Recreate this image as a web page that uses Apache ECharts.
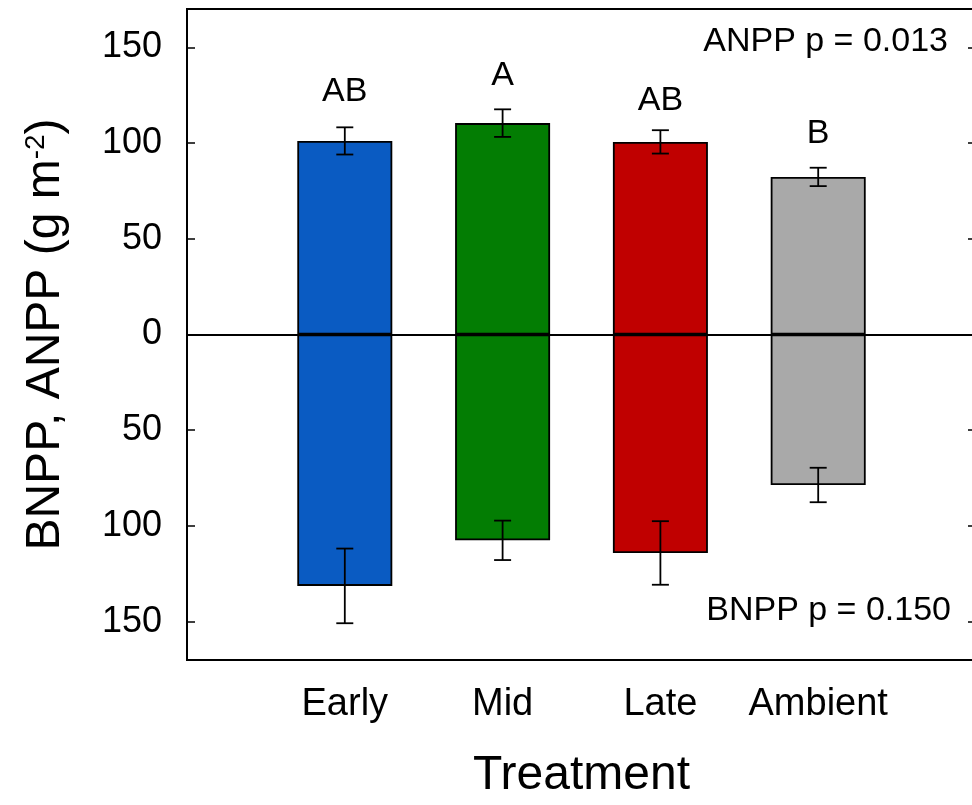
<!DOCTYPE html>
<html>
<head>
<meta charset="utf-8">
<script src="https://cdn.jsdelivr.net/npm/echarts@6/dist/echarts.min.js"></script>
<style>
html,body{margin:0;padding:0;background:#fff;overflow:hidden;width:972px;height:805px;}
#c{width:980px;height:805px;}
</style>
</head>
<body>
<div id="c"></div>
<script>
// ---- data ----
var categories = ['Early', 'Mid', 'Late', 'Ambient'];
var catPos = [1, 2, 3, 4];
var anppMean = [101.1, 110.4, 100.6, 82.3];
var anppSE = [7.1, 7.2, 6.1, 4.8];
var bnppMean = [131.3, 107.5, 114.1, 78.6];
var bnppSE = [19.5, 10.3, 16.6, 9.0];
var letters = ['AB', 'A', 'AB', 'B'];
var letterY = [126.8, 135.2, 121.9, 104.7];
var yTicks = [-150, -100, -50, 0, 50, 100, 150];
var barColors = ['#0a5bc2', '#037d03', '#c00000', '#a9a9a9'];
var anppNote = 'ANPP p = 0.013';
var bnppNote = 'BNPP p = 0.150';

var FONT = '"Liberation Sans", Arial, Helvetica, sans-serif';

var anppData = catPos.map(function (x, i) { return [x, anppMean[i]]; });
var bnppData = catPos.map(function (x, i) { return [x, -bnppMean[i]]; });
var errData = [];
catPos.forEach(function (x, i) {
  errData.push([x, anppMean[i] - anppSE[i], anppMean[i] + anppSE[i]]);
  errData.push([x, -(bnppMean[i] - bnppSE[i]), -(bnppMean[i] + bnppSE[i])]);
});
var letterData = catPos.map(function (x, i) { return [x, letterY[i]]; });

var chart = echarts.init(document.getElementById('c'), null, {renderer: 'canvas'});

function errRender(params, api) {
  var x = api.value(0);
  var p1 = api.coord([x, api.value(1)]);
  var p2 = api.coord([x, api.value(2)]);
  var cap = 8.5;
  var st = {stroke: '#000', lineWidth: 1.8};
  return {
    type: 'group',
    children: [
      {type: 'line', shape: {x1: p1[0], y1: p1[1], x2: p2[0], y2: p2[1]}, style: st},
      {type: 'line', shape: {x1: p1[0] - cap, y1: p1[1], x2: p1[0] + cap, y2: p1[1]}, style: st},
      {type: 'line', shape: {x1: p2[0] - cap, y1: p2[1], x2: p2[0] + cap, y2: p2[1]}, style: st}
    ]
  };
}

var option = {
  backgroundColor: '#fff',
  animation: false,
  grid: {
    left: 187, top: 9, right: 4, bottom: 145,
    show: true, borderColor: '#000', borderWidth: 2, backgroundColor: 'transparent'
  },
  xAxis: {
    type: 'value', min: 0, max: 5,
    splitLine: {show: false},
    axisLine: {show: false},
    axisTick: {show: true, inside: true, length: 8, customValues: catPos, lineStyle: {color: '#000', width: 1.5}},
    axisLabel: {
      show: true, customValues: catPos, margin: 26,
      fontFamily: FONT, fontSize: 38, color: '#000',
      formatter: function (v) { return categories[catPos.indexOf(v)] || ''; }
    },
    name: 'Treatment', nameLocation: 'middle', nameGap: 92,
    nameTextStyle: {fontFamily: FONT, fontSize: 48, color: '#000'}
  },
  yAxis: [{
    type: 'value', min: -170, max: 170,
    splitLine: {show: false},
    axisLine: {show: false},
    axisTick: {show: true, inside: true, length: 8, customValues: yTicks, lineStyle: {color: '#000', width: 1.5}},
    axisLabel: {
      show: true, customValues: yTicks, margin: 25,
      fontFamily: FONT, fontSize: 36, color: '#000',
      formatter: function (v) { return String(Math.abs(v)); }
    },
    name: 'BNPP, ANPP (g m{sup|-2})', nameLocation: 'middle', nameGap: 117, nameRotate: 90,
    nameTextStyle: {
      fontFamily: FONT, fontSize: 48, color: '#000',
      rich: {sup: {fontFamily: FONT, fontSize: 28, color: '#000', verticalAlign: 'top', lineHeight: 48}}
    }
  }, {
    type: 'value', min: -170, max: 170, position: 'right',
    splitLine: {show: false},
    axisLine: {show: false},
    axisTick: {show: true, inside: true, length: 8, customValues: yTicks, lineStyle: {color: '#000', width: 1.5}},
    axisLabel: {show: false}
  }],
  series: [{
    name: 'ANPP', type: 'bar', data: anppData, barWidth: 95, barGap: '-100%',
    itemStyle: {
      color: function (p) { return barColors[p.dataIndex]; },
      borderColor: '#000', borderWidth: 1.8
    },
    markLine: {
      silent: true, symbol: ['none', 'none'], label: {show: false},
      lineStyle: {color: '#000', width: 1.8, type: 'solid'},
      data: [{yAxis: 0}]
    },
    z: 2
  }, {
    name: 'BNPP', type: 'bar', data: bnppData, barWidth: 95, barGap: '-100%',
    itemStyle: {
      color: function (p) { return barColors[p.dataIndex]; },
      borderColor: '#000', borderWidth: 1.8
    },
    z: 2
  }, {
    type: 'custom', renderItem: errRender, data: errData, z: 5,
    encode: {x: 0, y: [1, 2]}
  }, {
    type: 'scatter', data: letterData, symbolSize: 0, z: 6,
    itemStyle: {opacity: 1},
    label: {
      show: true, position: 'inside', fontFamily: FONT, fontSize: 34, color: '#000', opacity: 1,
      formatter: function (p) { return letters[p.dataIndex]; }
    }
  }],
  graphic: [{
    type: 'text', z: 10,
    style: {text: anppNote, x: 948, y: 42, align: 'right', verticalAlign: 'middle', font: '34px ' + FONT, fill: '#000'}
  }, {
    type: 'text', z: 10,
    style: {text: bnppNote, x: 951, y: 611, align: 'right', verticalAlign: 'middle', font: '34px ' + FONT, fill: '#000'}
  }]
};
chart.setOption(option);
</script>
</body>
</html>
